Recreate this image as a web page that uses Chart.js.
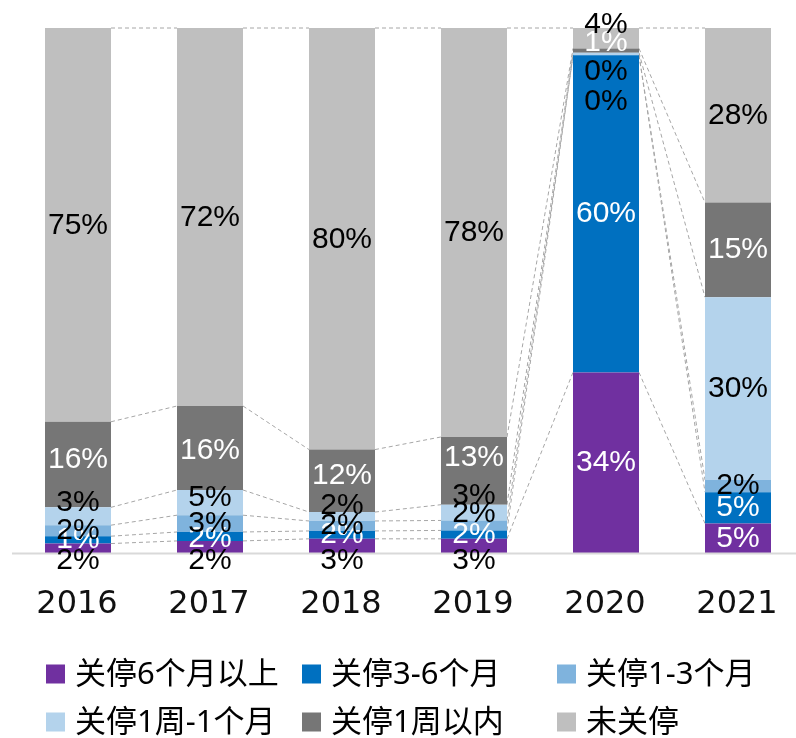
<!DOCTYPE html>
<html lang="zh-CN">
<head>
<meta charset="utf-8">
<title>关停情况分布</title>
<script src="https://cdn.jsdelivr.net/npm/chart.js@4/dist/chart.umd.min.js"></script>
<style>
  html, body { margin: 0; padding: 0; background: #ffffff; overflow: hidden; }
  #wrap { width: 808px; height: 738px; }
  canvas { display: block; }
</style>
</head>
<body>
<div id="wrap"><canvas id="chart" width="808" height="738"></canvas></div>
<script>
// Years on the category axis
const years = ['2016', '2017', '2018', '2019', '2020', '2021'];

// Series names, bottom of the stack first
const seriesNames = ['关停6个月以上', '关停3-6个月', '关停1-3个月', '关停1周-1个月', '关停1周以内', '未关停'];

// Share of each group per year (%)
const over6Months   = [1.8, 2.3, 2.7, 2.7, 34.4, 4.8];
const months3to6    = [1.4, 1.7, 1.5, 1.6, 60.4, 5.1];
const months1to3    = [2.1, 3.2, 1.9, 1.9, 0.1, 2];
const week1toMonth1 = [3.4, 4.8, 1.7, 3.0, 0.4, 29.7];
const withinWeek1   = [16.3, 16.0, 11.9, 12.9, 0.8, 15.4];
const notClosed     = [75.0, 72.0, 80.3, 77.9, 3.9, 28.4];

const seriesValues = [over6Months, months3to6, months1to3, week1toMonth1, withinWeek1, notClosed];

// Styling
const seriesColors = ['#7030A0', '#0070C0', '#7FB3DD', '#B4D3EC', '#767676', '#BFBFBF'];
const labelColors  = ['#ffffff', '#ffffff', '#000000', '#000000', '#ffffff', '#000000'];
// Vertical nudge (px) applied to value labels so crowded ones stay readable
const labelNudge = [
  [12, 14, 15, 15, 0, 0],
  [0, 2, 0, 0, 0, 0],
  [0, 0, 0, -12, 47, 0],
  [-14, -5, -11, -17, 18, 0],
  [-5, 3, -5, -13, -8, 0],
  [1, 1, 1, 0, -14, 0]
];

// 100% stacking: each column is scaled to its own total
const columnTotals = years.map((_, i) => seriesValues.reduce((s, arr) => s + arr[i], 0));
const shareOf = arr => arr.map((v, i) => v / columnTotals[i] * 100);

const LABEL_FONT = '30px "Liberation Sans", Arial, sans-serif';
const TICK_FONT = '32px "DejaVu Sans", sans-serif';
const LEGEND_FONT = '31px "Noto Sans", "Noto Sans CJK SC", sans-serif';

const datasets = seriesNames.map((name, s) => ({
  label: name,
  data: shareOf(seriesValues[s]),
  rawValues: seriesValues[s],
  backgroundColor: seriesColors[s],
  borderWidth: 0,
  barPercentage: 0.5,
  categoryPercentage: 1.0
}));

// Dashed connectors between the tops of matching segments in neighbouring columns
const seriesLines = {
  id: 'seriesLines',
  beforeDatasetsDraw(chart) {
    const ctx = chart.ctx;
    ctx.save();
    ctx.strokeStyle = '#A6A6A6';
    ctx.lineWidth = 1;
    ctx.setLineDash([4, 3]);
    chart.data.datasets.forEach((ds, d) => {
      const els = chart.getDatasetMeta(d).data;
      for (let i = 0; i < els.length - 1; i++) {
        const a = els[i], b = els[i + 1];
        ctx.beginPath();
        ctx.moveTo(a.x + a.width / 2, a.y);
        ctx.lineTo(b.x - b.width / 2, b.y);
        ctx.stroke();
      }
    });
    ctx.restore();
  }
};

// Baseline, year labels, value labels and legend
const decorations = {
  id: 'decorations',
  afterDatasetsDraw(chart) {
    const ctx = chart.ctx;
    const area = chart.chartArea;
    const xScale = chart.scales.x;

    // baseline
    ctx.save();
    ctx.strokeStyle = '#D9D9D9';
    ctx.lineWidth = 2;
    ctx.beginPath();
    ctx.moveTo(area.left, area.bottom + 0.5);
    ctx.lineTo(chart.width, area.bottom + 0.5);
    ctx.stroke();

    // year labels
    ctx.font = TICK_FONT;
    ctx.fillStyle = '#111111';
    ctx.textAlign = 'center';
    ctx.textBaseline = 'middle';
    chart.data.labels.forEach((lab, i) => {
      ctx.fillText(lab, xScale.getPixelForValue(i) - 1, area.bottom + 52);
    });

    // value labels
    ctx.font = LABEL_FONT;
    chart.data.datasets.forEach((ds, d) => {
      const els = chart.getDatasetMeta(d).data;
      els.forEach((el, i) => {
        const y = (el.y + el.base) / 2 + labelNudge[d][i];
        ctx.fillStyle = y > area.bottom ? '#000000' : labelColors[d];
        ctx.fillText(Math.round(ds.rawValues[i]) + '%', el.x, y);
      });
    });

    // legend, three columns by two rows
    const colX = [46, 302, 557];
    const rowY = [674, 722];
    ctx.font = LEGEND_FONT;
    ctx.textAlign = 'left';
    ctx.textBaseline = 'middle';
    chart.data.datasets.forEach((ds, d) => {
      const x = colX[d % 3];
      const y = rowY[Math.floor(d / 3)];
      ctx.fillStyle = ds.backgroundColor;
      ctx.fillRect(x, y - 9.5, 19, 19);
      ctx.fillStyle = '#000000';
      ctx.fillText(ds.label, x + 29, y + 1);
    });
    ctx.restore();
  }
};

new Chart(document.getElementById('chart'), {
  type: 'bar',
  data: { labels: years, datasets },
  options: {
    responsive: false,
    animation: false,
    devicePixelRatio: 1,
    layout: { padding: { left: 12, right: 4, top: 28, bottom: 185 } },
    plugins: {
      legend: { display: false },
      tooltip: { enabled: false }
    },
    scales: {
      x: { stacked: true, display: false, offset: true },
      y: { stacked: true, display: false, min: 0, max: 100 }
    }
  },
  plugins: [seriesLines, decorations]
});
</script>
</body>
</html>
